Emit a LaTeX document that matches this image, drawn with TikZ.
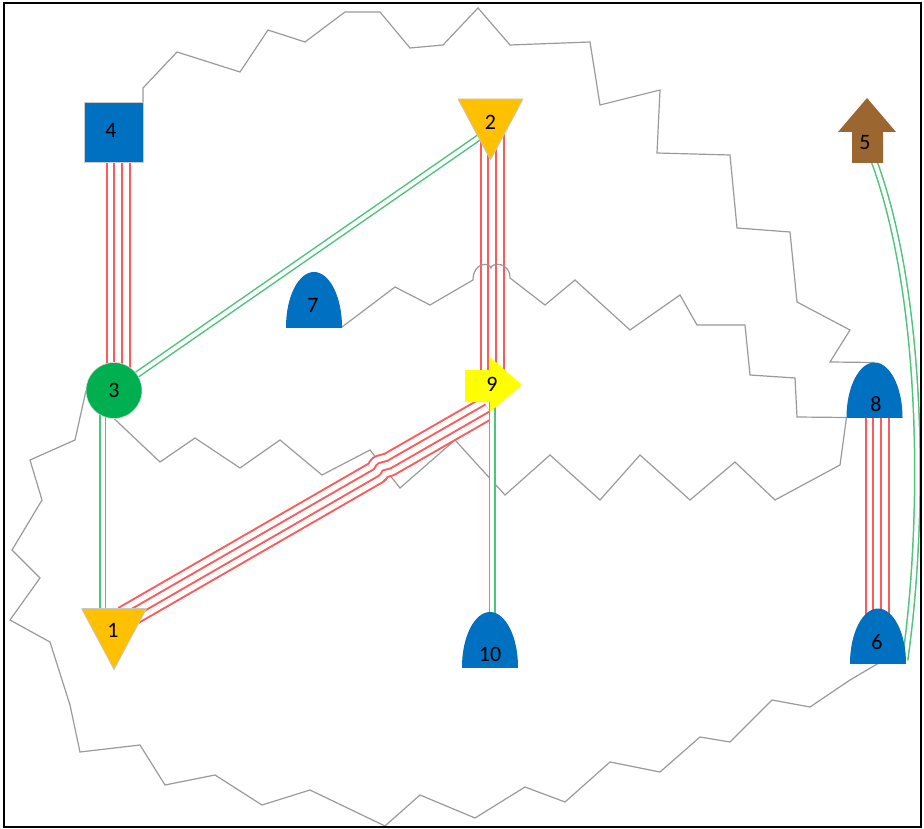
\documentclass[tikz,border=0pt]{standalone}
\usepackage{fontspec}
\setmainfont{Carlito}
\usetikzlibrary{calc}
\definecolor{nodeblue}{HTML}{0070C0}
\definecolor{nodegold}{HTML}{FFC000}
\definecolor{nodegreen}{HTML}{00B050}
\definecolor{nodeyellow}{HTML}{FFFF00}
\definecolor{nodebrown}{HTML}{9C6630}
\definecolor{linkred}{HTML}{FF5A5A}
\definecolor{linkgreen}{HTML}{4CC47C}
\definecolor{zig}{HTML}{9A9A9A}
\pgfdeclarelayer{links}
\pgfsetlayers{links,main}
\begin{document}
\begin{tikzpicture}[x=1pt,y=-1pt,
  every label/.style={font=\fontsize{22}{24}\selectfont, inner sep=0pt, text=black},
  base/.style={inner sep=0pt, outer sep=0pt},
  sqbox/.style={base, minimum width=59, minimum height=60, fill=nodeblue, draw=gray!40, line width=0.6},
  roundbox/.style={base, circle, minimum size=56, fill=nodegreen, draw=gray!30, line width=0.6},
  % shapes below are drawn relative to the node centre
  tribox/.style={base, minimum width=65, minimum height=61,
    path picture={\fill[nodegold, draw=gray!45, line width=0.8]
      (-32.5,-30.5) -- (32.5,-30.5) -- (0,30.5) -- cycle;}},
  domebox/.style={base, minimum width=56, minimum height=55,
    path picture={\fill[nodeblue] (path picture bounding box.south) ellipse [x radius=28pt, y radius=55pt];}},
  uparrowbox/.style={base, minimum width=58, minimum height=65,
    path picture={\fill[nodebrown]
      (0,-32.5) -- (29,1.5) -- (16,1.5) -- (16,32.5) -- (-15,32.5) -- (-15,1.5) -- (-29,1.5) -- cycle;}},
  rightarrowbox/.style={base, minimum width=57, minimum height=55,
    path picture={\fill[nodeyellow]
      (-28.5,-14.5) -- (-3.5,-14.5) -- (-3.5,-27.5) -- (28.5,0.5) -- (-3.5,27.5) -- (-3.5,17.5) -- (-28.5,17.5) -- cycle;}},
  redbundle/.style={draw=linkred, line width=25, line join=round,
    postaction={draw=white, line width=21},
    postaction={draw=linkred, line width=10},
    postaction={draw=white, line width=6}},
  greenlink/.style={draw=linkgreen, line width=1.5, double=white, double distance=4},
  ziglink/.style={draw=zig, line width=1.2, line join=miter},
]
\useasboundingbox (0,0) rectangle (924,829);
\draw[black, line width=1.4] (4,3) rectangle (921,827);

% nodes
\node[sqbox, label={[name=t4, shift={(-2.5,-2)}]center:4}] (n4) at (113.5,132) {};
\node[tribox, label={[name=t2, shift={(0,-7)}]center:2}] (n2) at (490.5,129.5) {};
\node[uparrowbox, label={[name=t5, shift={(-2,12)}]center:5}] (n5) at (867,130.5) {};
\node[domebox, label={[name=t7, shift={(-1,5.5)}]center:7}] (n7) at (314,299.5) {};
\node[roundbox, label={[name=t3]center:3}] (n3) at (114,390.5) {};
\node[rightarrowbox, label={[name=t9, shift={(-1.5,0)}]center:9}] (n9) at (493.5,384.5) {};
\node[domebox, label={[name=t8, shift={(1.5,14.5)}]center:8}] (n8) at (874.5,390) {};
\node[tribox, label={[name=t1, shift={(-1,-8.5)}]center:1}] (n1) at (114,639) {};
\node[domebox, label={[name=t10, shift={(0,14.5)}]center:10}] (n10) at (490,639.5) {};
\node[domebox, label={[name=t6, shift={(-1,6.5)}]center:6}] (n6) at (878,636) {};

\begin{pgfonlayer}{links}
  % zigzag connectors
  \draw[ziglink] (n4.east) -- (143,88) -- (177,52) -- (240,72) -- (268,30)
    -- (305,42) -- (345,12) -- (380,12) -- (410,48) -- (443,45) -- (478,8) -- (510,45)
    -- (590,42) -- (600,105) -- (660,90) -- (657,153) -- (730,155)
    -- (737,228) -- (790,232) -- (797,302) -- (850,330) -- (830,362) -- (n8.north);
  \draw[ziglink] (n3.west) -- (75,440) -- (30,460) -- (42,500) -- (12,550) -- (40,578)
    -- (10,620) -- (50,642) -- (70,705) -- (80,752) -- (140,745) -- (165,785)
    -- (215,775) -- (262,805) -- (310,790) -- (385,826) -- (420,795) -- (475,818)
    -- (525,787) -- (565,802) -- (610,762) -- (660,772) -- (700,737) -- (730,742)
    -- (772,700) -- (810,707) -- (850,680) -- (n6.south);
  \draw[ziglink] (n3.south) -- (160,462) -- (195,438) -- (240,468) -- (280,440)
    -- (322,475) -- (370,450) -- (400,488) -- (455,440) -- (505,495) -- (550,455)
    -- (600,500) -- (640,455) -- (690,500) -- (735,462) -- (775,500) -- (840,465)
    -- (n8.south west);
  % red and green links
  \draw[redbundle] ([shift={(4.5,0)}]n4.center) -- ([shift={(4,0)}]n3.center);
  \draw[redbundle] ([shift={(1.5,0)}]n2.center) -- ([shift={(-1.5,0)}]n9.center);
  \draw[redbundle] ([shift={(2.5,0)}]n8.center) -- ([shift={(-1,0)}]n6.center);
  % the diagonal bundle jumps over the zigzag it crosses
  \draw[redbundle] ([shift={(10,-21)}]n1.center) -- (377,472.1) -- (380,467) -- (389,464.6)
    -- ([shift={(-6,-4)}]n9.south);
  \draw[greenlink] (n3.center) -- (n2.center);
  \draw[greenlink] ([shift={(-11.5,0)}]n3.center) -- ([shift={(-11.5,4)}]n1.north);
  \draw[greenlink] ([shift={(-1.5,0)}]n9.center) -- ([shift={(2,0)}]n10.center);
  \draw[greenlink] ([shift={(7,-2)}]n5.south) .. controls (925,300) and (925,520) .. ([shift={(27,24)}]n6.center);
  % zigzag with hops over the vertical bundle
  \draw[ziglink] (n7.south east) -- (395,287) -- (430,305) -- (473,280)
    .. controls (473,262) and (490,262) .. (491,268)
    .. controls (492,262) and (510,262) .. (510,278)
    -- (545,305) -- (575,280) -- (630,330) -- (680,295) -- (697,325) -- (745,325)
    -- (750,375) -- (795,378) -- (797,417) -- (n8.south west);
\end{pgfonlayer}
\end{tikzpicture}
\end{document}
